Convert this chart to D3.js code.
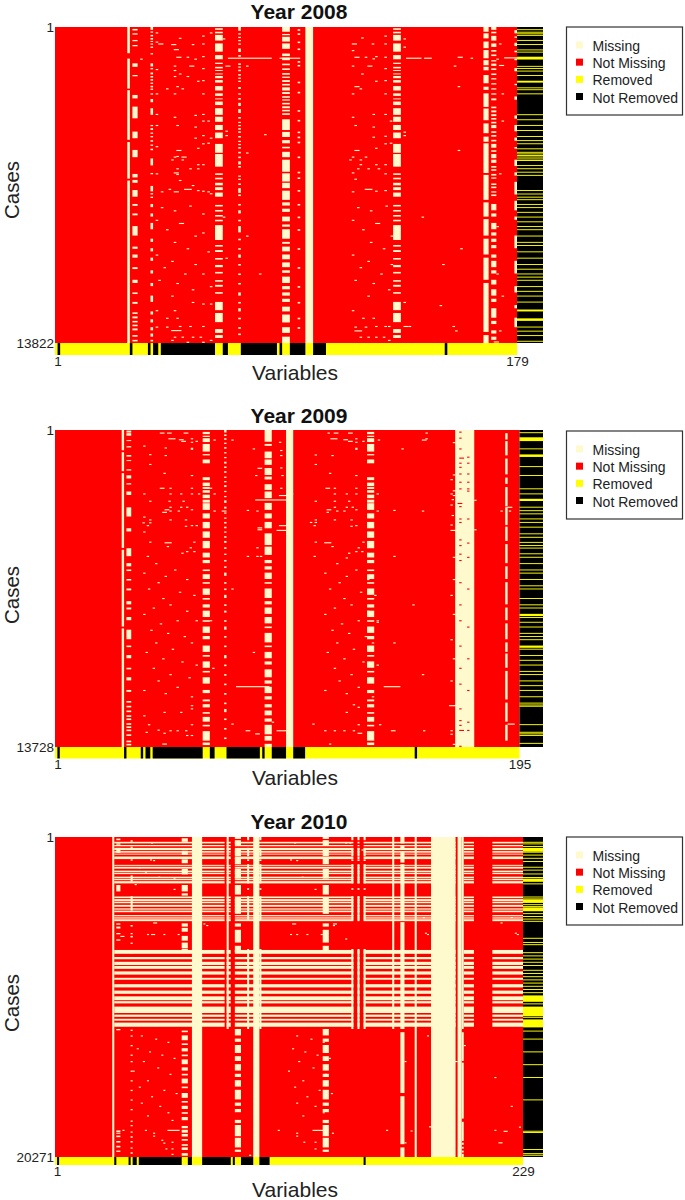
<!DOCTYPE html>
<html>
<head>
<meta charset="utf-8">
<script src="https://cdn.jsdelivr.net/npm/d3@7"></script>
<style>
  body { margin: 0; background: #fff; }
  svg { display: block; font-family: "Liberation Sans", Arial, sans-serif; }
  .soft { filter: blur(0.35px); }
</style>
</head>
<body>
<div id="chart"></div>
<script>
// Legend
var legendLabels = ["Missing", "Not Missing", "Removed", "Not Removed"];
var legendColors = ["#FFFACD", "#FF0000", "#FFFF00", "#000000"];

// Rows are given as % of the cases, from the top. Columns are variable numbers.
// ---------- Year 2008 ----------
var solid = [[0, 100]];
var gaps2008a = [[0,8.3],[10,19.5],[20,35.7],[36.4,48],[48.6,100]];
var rows2008a = [[0.4,0.9],[1.5,2],[2.5,4.3],[5.2,7.8],[8.9,10.2],[11.3,11.7],[12.6,13.1],[13.6,13.9],[14.7,15],[15.5,16.2],[16.8,17.6],[18.7,20.1],[21,21.8],[22.6,22.9],[23.6,24.7],[25.7,27.8],[28.4,30],[31,32.6],[33.4,35.2],[37,39.8],[40.2,44.2],[46.3,46.8],[47.7,48.2],[49.3,50.1],[50.7,51.6],[52.4,53.7],[56.3,56.8],[57.9,58.4],[59.5,60],[61,61.5],[62.7,67.4],[69,69.5],[70.6,71.2],[73.1,73.6],[75.3,76],[77.5,78],[80.1,80.6],[81.6,82.2],[83.9,84.4],[87,89.6],[90.5,93.4],[95.6,96.8],[97.5,98.4]];
var rows2008b = [[0,1.5],[2.2,2.6],[3.1,4.6],[5.2,6.9],[8.4,9.2],[9.7,10.5],[11.6,12.1],[13.1,13.6],[14.6,15.1],[15.7,16.1],[16.8,17.4],[18,18.5],[19.1,20.1],[20.6,21.2],[21.9,22.4],[22.9,23.3],[24,24.5],[25.1,25.7],[26.2,26.7],[27.3,27.8],[29.2,32.6],[33.2,34.8],[35.8,36.8],[37.9,38.4],[39.5,41.2],[42,45.8],[46.3,48.9],[49.3,51],[51.8,54.7],[55.5,56.5],[57.5,58.5],[60,61.5],[62.5,63.2],[64,67],[68,68.6],[69.5,71],[72,73.5],[74.5,76],[77,77.8],[79,81],[82,83],[84,85],[86,87],[88.5,90],[91,93.5],[95,96.8],[98,100]];
var rows2008c = [[0,1.5],[2,3.6],[4.6,6.7],[7.3,9.9],[10.5,12.1],[12.6,13.7],[15.2,17.8],[18.9,19.9],[21,25.3],[25.8,29.5],[30.5,33.6],[34.7,36.3],[36.8,46.2],[46.8,54.7],[55.5,60],[60.8,66],[67,72],[73,80],[81,96.5],[97.5,100]];
var rows2008d = [[0,0.9],[1.5,2],[2.8,4.3],[5.2,6.3],[7.3,7.8],[8.7,9.2],[10.5,10.9],[11.6,12.3],[13.1,13.6],[14.7,15.2],[16.2,16.6],[17.8,18.2],[19.4,19.8],[21,21.4],[22.6,23.2],[25.2,25.7],[26.4,27],[27.6,28.2],[28.8,29.3],[30,30.5],[31,32],[33,33.5],[34.2,34.7],[35.7,36.2],[37,38.2],[39,39.5],[40.2,41.5],[42,43],[44,44.5],[45,45.5],[46.5,47],[47.6,48],[49.5,50],[50.5,51],[52,52.4],[53,53.5],[56,58],[59,60],[62,64],[65,66],[67,68],[69,70],[72,73],[74,76],[77,78],[80,81.5],[83,85],[86,87],[89,92],[93,94],[96,97],[98,99]];
var rows2008e = [[0.6,1.1],[2,2.4],[4.1,4.5],[5.7,6.1],[11.5,12.6],[15.2,15.6],[21.5,22.6],[25.2,28.9],[33.1,35.2],[38.9,41.2],[46.5,47.6],[48.4,49.3],[51.6,53.7],[56,56.6],[59,59.6],[63,66],[69.5,70.2],[72,73],[76,76.6],[80,81],[84,84.5],[87,87.6],[90.3,90.8],[91.6,92.2],[93,93.5],[94.2,94.7],[95.4,96],[97.5,98],[99,99.5]];
var rows2008f = [[0,0.9],[1.4,1.8],[2.5,3],[3.5,4],[4.4,4.7],[5.2,5.6],[6.2,6.6],[8.3,8.7],[11.5,12.5],[13,13.4],[14.4,15],[15.5,16],[16.5,17],[17.6,18],[18.6,19.1],[19.5,19.9],[21,21.4],[22.8,23.8],[25.7,27.8],[31,31.4],[32,32.6],[33.4,33.8],[34.5,34.9],[35.8,36.3],[37.2,37.6],[38.5,39],[41.6,43.8],[46.2,46.6],[50.3,52],[52.6,53],[53.7,54.1],[56,57],[59,60],[62,64],[67,68],[70,71],[73,74],[77,78],[81,82],[85,87],[90,91],[92.5,93.5],[95,96],[97,98],[99,99.5]];
var rows2008g = [[0,1.2],[2,2.4],[3.1,3.5],[4.1,4.5],[5.2,5.6],[6.8,7.9],[8.9,9.4],[11.5,12],[12.5,12.9],[13.5,14],[14.9,15.4],[16,16.4],[17,17.4],[19,19.6],[21,21.4],[22.5,23],[24,25],[26,27.2],[28.5,29],[30,30.4],[31,31.4],[32,32.5],[33,33.5],[34.5,35],[36,36.4],[37,37.4],[38,38.5],[39.5,40],[41,41.5],[42.5,43.5],[44,44.5],[47,47.4],[48,48.4],[49.5,50],[51,52.5],[53,53.5],[56,56.5],[58,59],[61,61.5],[63,65],[67,67.5],[70,70.5],[72,73],[75,75.5],[78,78.5],[81,81.5],[84,85],[87,87.5],[89,90],[92,92.5],[95,95.5],[97,97.5]];
var rows2008h = [[0.7,1.2],[2,2.5],[4.6,5.1],[6.8,7.3],[10.8,11.3],[12,12.5],[17.3,17.8],[20.5,21],[26.3,26.8],[29.4,29.9],[33.1,33.6],[34.7,35.2],[36.3,36.8],[41,41.5],[45.8,46.3],[47.6,48.1],[51.6,52.1],[56,56.5],[60,60.5],[64,64.5],[70,70.5],[76,76.5],[82,82.5],[87,87.5],[92,92.5],[95,95.5]];
var rows2008i = [[1,2],[3,3.4],[5,6],[7.5,8],[10,10.5],[13,14],[18,18.4],[22,23],[28,29],[31,33],[35,36],[38,38.5],[42,44],[46,47],[49,53],[55,58],[60,61],[66,70],[74,78],[82,84],[88,89],[92,95]];
var stripes2008 = [[29,29,gaps2008a],[31,32,rows2008e],[38,38,rows2008f],[63,65,rows2008a],[72,72,rows2008g],[89,91,rows2008b],[95,95,rows2008h],[98,100,solid],[132,134,rows2008a],[167,168,rows2008c],[170,171,rows2008d],[179,179,rows2008i]];
// [variable, % of cases, length in variables]
var specks2008 = [[40,1.7],[40,4.6],[41,5.2,2],[46,5.4,2],[49,3.4],[54,5.4],[58,2.7],[58,5.2],[61,1.7],[47,7,2],[48,9.4,2],[52,9.4],[55,10],[58,9.2],[34,10],[40,13.3],[47,12.2],[47,13.6],[53,12.2,2],[58,13],[47,15.5],[49,14.7],[52,15.5],[56,17],[58,16.8],[44,19.4],[48,18.7],[50,19.4],[47,21],[40,21],[58,21],[40,27.5],[47,28.4],[48,31],[55,27.8],[58,27.5],[58,29.6],[60,29.6],[55,31.5],[40,31],[55,35],[58,34.2],[61,35],[58,36.8],[60,36.6],[56,38.2],[40,37.7],[48,38.9,2],[47,41],[46,41.9],[48,40.8],[50,41],[51,41],[50,41.9],[56,43.4],[58,43.4],[48,44.7],[53,44.7],[56,44.7],[47,46,2],[48,46.5],[40,46.3],[49,48.4],[54,50],[51,51.2,3],[56,51.6],[42,52],[45,51.2],[47,52,2],[58,51.8],[60,52],[61,52.6],
  [68,9.7,17],[88,9.7,8],[137,9.7,6],[144,9.7,3],[67,12.2,2],[75,12.2],[82,33.9],[75,39.7],[67,32.8],[67,34.2],[66,3.6],
  [119.6,3.3],[128.6,2.7],[116,5.2,2],[123.7,5.2],[128.6,5.2],[116,7.3],[117,9.4,2],[121,9.4],[125,9.2],[124,9.9],[128.6,9.4],[116,12.2],[122,12.2,2],[119.6,14.7],[128.6,13],[125,17],[128.6,16.8],[117,18.7,2],[119,19.4],[116,21],[128.6,21],[116,28.4],[124,27.5],[128.6,27.5],[130.7,29.6],[117,31],[124,31.5],[124,34.7],[128.6,34.4],[128.6,36.8],[130.7,36.6],[125,38.2],[117,38.9,2],[116,41],[115,41.9],[119,41.9],[121,41],[119,43.4],[125,43.4],[128.6,43.4],[118,44.7],[122,44.7],[126,44.7],[116,46],[128.6,46.3],[117,48],[121,51.2,3],[116,52],[125,51.8],[128.6,51.6],[136,3.6],[136,6.2],[136,33.1],[136,34.2],
  [157,9.4,2],[162,9.7],[155.5,12.2],[157,18.7],[157,38.9],[173,5.2],[173,12,2],[174,21],[174,29.6],[173,46.3],[175,9.6,5],[172,10],
  [42,57],[47,58],[53,56.5],[58,59],[40,61],[49,62,2],[44,64],[55,66],[58,65],[47,68],[52,70],[40,72],[60,71],[46,74],[43,76],[55,75],[51,78],[58,78],[41,80],[48,81],[61,82],[54,83],[46,85],[66,60],[67,73],[75,66],[80,78],
  [118,57],[123,58],[129,56.5],[116,61],[125,62,2],[120,64],[131,66],[123,68],[128,70],[116,72],[122,74],[119,76],[131,75],[127,78],[117,80],[124,81],[130,83],[122,85],[143,60],[151,75],[158,70],[172,63],[172,78],[174,85],[150,88],
  [54,87],[58,87.5],[61,87.5],[47,89.6],[40,89.6],[44,92],[48,92],[40,94.8],[44,94.8],[49,94.6],[53,94.6],[58,94.6],[46,95.9,4],[47,98],[50,98],[54,98],[57,98],[58,99.6],[61,99],[46,99],[52,99.6],
  [116,89.6],[120,92],[124,92],[117,94.8],[121,94.8],[125,94.6],[128.6,94.6],[130,94.6],[117,96,3],[119,98],[122,98],[125,98],[128,98],[130,99],[136,94.6,2],[136,87],[138,94.6],[155,94.6],[156,96],[173,96],[171,99.5,2]];
var blackRuns2008 = [[2,2],[30,30],[37,37],[39,40],[42,62],[66,67],[73,86],[88,88],[92,97],[101,105],[152,152]];
var removedRows2008 = [0.7,1.5,2,2.5,4.1,5.4,7.1,7.8,12.3,13,13.8,15.2,19.1,19.7,21,27.6,29.2,31,32.6,34.5,35.8,36.8,38.4,39.5,40,40.5,41,41.6,42.1,43.7,44.7,45.8,46.8,51.6,52.7,53.7,54.5,56,57,58.5,60,61.5,63,64,66,68,69,71,73,75,76.5,78,79,80,82,83.5,85,86.9,89.6,94.8,96.1,97.5,99.3];
var removedWide2008 = [[9.4,10.3],[17,17.6],[92.2,93],[89.4,90]];

// ---------- Year 2009 ----------
var gaps2009a = [[0,6.4],[7,13],[13.6,37.2],[37.8,62],[62.6,100]];
var rows2009a = [[0.6,1.3],[1.8,2.2],[2.6,3.8],[4.4,6.8],[7.6,8],[9.3,10.5],[14.9,15.8],[16.6,17.7],[18,18.6],[19,19.8],[20.4,21.5],[22,22.9],[23.1,25.2],[26.3,27.9],[29,31],[32,34],[35,37.3],[38.7,40.2],[41,42],[44,44.5],[45.5,47],[48,48.5],[50,52],[53,53.5],[55,56],[57,59],[60,60.5],[62,64],[65,66],[68,70],[71,71.5],[73,75],[76,76.5],[78,80],[82,83],[85,85.6],[86.5,87.5],[89,89.5],[90.5,92],[93,93.5],[95,98],[98.6,99.4]];
var rows2009b = [[0,3.7],[4.4,5],[6.8,8.9],[9.3,11],[12,12.6],[12.6,14.2],[14.7,15.6],[17.1,18.9],[19.4,21.5],[23,25.2],[26.3,27.9],[29,31],[32.6,36.3],[36.8,39.4],[41,42],[43,44],[45,47],[48,48.5],[50,53],[54,55],[56,58],[59,61],[62,62.5],[64,67],[68,68.5],[70,72],[73,74],[75.5,78],[79,80],[81,83],[84,85],[86.5,87.5],[88.5,90],[91,92],[93,96],[96.5,98],[99,100]];
var rows2009c = [[0.2,0.8],[1,1.8],[3.2,3.5],[5.1,5.5],[7.9,8.4],[9.5,9.8],[12.4,12.8],[14.3,15.3],[16.8,17.2],[19.4,20.5],[24.4,27.3],[31,32],[37.3,39.8],[42,43],[44,44.5],[47,47.5],[50,50.6],[54,55],[56,56.6],[59,60],[63,66],[68,68.5],[71,72],[75,75.5],[78,79],[82,82.6],[85.5,86],[87,87.5],[88.5,89],[90,90.5],[91,91.5],[92.5,93],[93.5,94],[94.5,95],[96,96.5],[98,98.5],[99,99.5]];
var rows2009d = [[0,0.8],[1.4,1.9],[2.6,3.1],[4,4.4],[5.4,5.9],[7,7.4],[8.5,8.9],[10,10.6],[11.5,12],[13,13.5],[14.7,15.1],[16.1,16.5],[17.4,18],[19.2,19.6],[20.8,21.2],[22.2,23],[24.2,24.8],[26,26.4],[27.6,28],[29,29.5],[30.5,31],[32,32.4],[33.5,34],[35,35.6],[37,37.5],[39,39.4],[41,41.5],[43,43.5],[45,46],[48,48.5],[50,50.5],[52,53],[55,55.5],[57,57.6],[60,60.5],[62,63],[65,65.5],[68,68.5],[71,72],[74,74.5],[77,77.5],[80,80.5],[83,83.5],[86,86.5],[88,89],[91,91.5],[94,94.5],[97,97.5]];
var rows2009e = [[1,3],[3.5,8],[9,14],[15,17],[18,24],[24.6,30],[30.5,35],[36,42],[43,47],[48,55],[56,60],[61,66],[67,70],[70.5,75],[76,85],[86,92],[93,98]];
var stripes2009 = [[29,29,gaps2009a],[31,32,rows2009c],[63,65,rows2009a],[72,72,rows2009d],[89,91,rows2009b],[98,100,solid],[132,134,rows2009a],[169,176,solid],[190,190,rows2009e]];
var specks2009 = [[45,0.8,2],[48,0.8,2],[55,0.8,2],[48.6,2.6,3],[53,2.9,2],[54,3.4,2],[58,2.6],[58,3.7],[58,5.6,1],[58,5.9],[60,3.4],[38,4.9],[47,5.5],[40.5,7.6],[47,7.9],[40.5,10.7],[46.5,13.5],[58,14.2],[45,18.2,2],[49,18.2],[58,18.2],[38,20],[49,20],[53.5,20],[58,20],[61,20],[67.5,20],[66,18.2],[67.5,3],[75,3],[84,5.8],[85,14.2],[86,11.9,2],[40.5,22.3],[48.6,22.3],[54.5,22.3],[49,24.2],[53.5,24.2],[56,24.2],[58,25],[47,25,2],[46,25.8,2],[49,25.4],[52.5,25.4],[67.5,25.4],[71,25.4,2],[81.5,25.2],[85.5,25.4],[38,27.3],[40.5,28.2],[37.7,29.1],[40.5,29.1],[49,28.2],[55.5,28.2],[39.5,30],[55.5,30.2],[58,30],[60,30],[38,32],[40.5,35.2],[47,35.4,3],[47.9,36.6],[59,35.2],[57.5,37],[56,38.2],[59,38.2],[54,38.7],[39.5,39.7],[81.5,39.7],[85.5,39.7],[87,39.7],[85.5,37],[86,30.7,2],[86,31.3,2],[95,30,4],[94,31.5,4],[95.5,11.8],[95,20.5,5],[85,21.9,14],[95.5,6.3],[95.5,7.9],[95,3.7],[96,14.2],[95.5,18.2],
  [115.4,0.8],[118,0.8,2],[124,0.8,2],[116.6,2.6,3],[122,2.9,2],[124,3.4,2],[127,2.6],[127,3.7],[127,5.6],[127,5.9],[130,3.4],[136.5,3],[146.4,5.8],[156.5,0.8],[156.5,2.6],[155,3,2],[110,7.7],[117,7.9],[110,10.7],[116,13.5],[127,14.2],[114.5,18.2,2],[118,18.2],[127,18.2],[118,20],[123,20],[127,20],[136,20],[100,20],[110,22.3],[118,22.3],[124,22.3],[118,24.2],[123,24.2],[125.5,24.2],[127,25],[115,25,2],[115,25.8],[119,25.4],[122,25.4],[136,25.4],[143,25.2],[155,25.4],[110,28.2],[108,29],[110,29],[118,28.2],[125,28.2],[109.5,30],[125,30.2],[127,30],[110,35.2],[114,35.4,3],[117,36.6],[130,35.2],[128,37],[127,38.2],[129.5,38.2],[124,38.7],[109.5,39.7],[143,39.7],[123,40.2],
  [168,3.8],[168,14],[167,15.5],[168,19,4],[168,20.5],[167,20],[167.5,21.8],[167,23.5],[167.5,26.8],[167,29.8],[167,31.5,3],[177,22],[177,31.3],[188,25.4],[190,24.2,3],[191.5,25.4],[168,40],[168,47],[167,52],[168,58],[167,66],[168,72],[167,79],[166.4,86.8,5],[167,94.7],[167,95.8],[168,99],
  [43,42],[51,44],[38,45],[47,46],[56,47],[44,48],[40,50],[53,51],[59,52],[46,53],[49,55],[42,56],[56,57],[38,58],[52,60],[45,61],[60,60],[41,63],[48,64],[55,65],[43,67],[58,67],[50,69],[39,70],[46,72],[54,73],[60,74],[42,75],[49,77],[57,78],[44,79],[52,81],[38,82],[47,83],[58,84],
  [119,42],[127,44],[114,45],[123,46],[132,47],[120,48],[116,50],[129,51],[135,52],[122,53],[125,55],[118,56],[132,57],[114,58],[128,60],[121,61],[136,60],[117,63],[124,64],[131,65],[119,67],[134,67],[126,69],[115,70],[122,72],[130,73],[136,74],[118,75],[125,77],[133,78],[120,79],[128,81],[114,82],[123,83],[134,84],[77,80.8,14],[139,80.8,7],[66,60],[75,50],[84,70],[67,75],[136,60.5],[151,55],[155,77],[143,67],
  [38,90],[40,92.8],[46.5,88.9],[53.5,88.9],[58,86.8],[58,87.8],[58,92.8],[39,95.2],[44,94.5],[46.5,95.5],[49,94.7],[52,94.7],[55.6,94.7],[56,96.2],[58,96.2],[46,98.9,2],[75,92.6],[81,94.7,2],[85,95.7,2],[94,94.7,4],[92,92],[109,92.6],[114,94.7],[118,94.7],[122,94.7],[116,98.9],[128,87.3],[126,86.5],[128,92.8],[126,94.7],[128,95.5,2],[137,92.8],[142,94.7,2],[155.5,94.7],[123,88.9],[191,92.6,3]];
// red cells left inside the missing block
var redSpecks2009 = [[170.7,0.5],[170.7,2.4],[170.7,5.8],[170.7,8.7,2],[174,8.4],[174,10.3],[170.7,10.3],[170.7,11.6],[170.7,13.7],[174,13.7],[170.7,16.3],[174,16.3],[170.7,18.4],[174,18.4],[174,19.1],[170,23,2],[170.7,24],[170.7,27.9],[174,27.9],[170.7,29],[170.7,34.5],[170.7,36.3],[174,35.5],[170.7,39],[170.7,41],[174,40],[170.7,48],[174,50],[170.7,55],[170.7,60],[174,62],[170.7,68],[174,72],[170.7,75],[170.7,80],[174,82],[170.7,87.8],[170.7,91.5],[170.7,93],[174,92],[170.7,94.6,2],[174,94.6],[170.7,99.6]];
var blackRuns2009 = [[2,2],[30,30],[37,37],[39,40],[42,62],[66,67],[73,86],[88,88],[92,97],[101,105],[152,152]];
var removedRows2009 = [0.7,5.8,11.4,14.2,18.4,20,24.2,25.3,26.3,27.9,29,30.5,32.6,33.7,35.3,36.3,37.1,38.9,40,42,44,45,47,49,50,53,55,56,59,60.5,62,64,65,66,69,71,72.5,74,76,77,79,80.5,82,84,86,86.6,87,92.8,95.2,95.7,96.2,98.7];
var removedWide2009 = [[2.3,3.5],[7.7,8.5],[21.7,22.4],[58,58.7],[68,68.7]];

// ---------- Year 2010 ----------
var bandRows2010 = [[1.5,2],[2.5,2.9],[3.4,4.1],[4.4,4.9],[5.2,5.5],[6.1,6.9],[8.7,9],[9.3,9.9],[10.5,11],[11.2,11.6],[12.4,12.9],[13.1,13.5],[13.8,14.5],[18.6,19.1],[19.4,20],[20.2,20.7],[21.2,21.8],[22.3,22.7],[23,23.5],[24.4,24.8],[25.1,25.5],[25.7,26.3],[35.3,36.5],[37.5,38.2],[39,40],[40.3,41.2],[42,43],[44,44.6],[46,47],[48,49],[49.8,51],[51.3,52],[53,55],[55.5,56.2],[56.8,57.4],[58,59.3]];
var bandColumns2010 = [[30,83],[85,86],[89,146],[149,149],[152,196],[201,205],[215,229]];
var rows2010a = [[0.4,1.5],[4.3,5.6],[7,8.2],[10,11.7],[15,17],[17.6,18.3],[27,28],[28.4,29.6],[30.9,32.4],[33,34.8],[35,36],[60.5,61],[62,63.5],[64.5,65],[66,67],[68,68.5],[69.5,71],[72,73],[74,74.5],[75.5,77],[78,78.5],[80,81.5],[82.5,83],[84,85],[86,86.5],[87.5,88.5],[90.3,91],[91.5,92.4],[92.8,93.6],[94.4,94.9],[96,96.5],[97,97.8],[98.8,99.6]];
var rows2010b = [[0,0.6],[1,2.5],[4,6],[6.5,8.5],[10,13],[15,18],[19,24],[27,28],[29,33],[34,36],[60,62],[63,64],[65,67.5],[68.5,70],[71,73],[74,75],[76,78],[79,82],[83,84],[85,86],[88.4,89.4],[90,93.5],[94,97],[97.7,98.4]];
var rows2010c = [[1,1.5],[3,3.4],[7,7.4],[12,14],[18.5,23],[27.5,28],[30,30.4],[31,31.4],[33,33.4],[36,36.4],[60.2,60.6],[62,62.4],[65,65.4],[68,68.4],[70,70.4],[73,73.4],[76,76.4],[79,79.4],[82,82.4],[85,85.4],[88.6,89],[90,90.4],[92,92.4],[93.5,94],[95,95.5],[97,97.4],[98.5,99]];
var rows2010d = [[0.5,1],[2,2.4],[3.4,5],[15,17],[27,27.4],[28,28.6],[30,30.4],[32,32.4],[60,60.4],[91.7,92.2],[93.3,93.8],[95,95.5],[96.5,97],[98,98.4]];
var rows2010e = [[0,60]];
var rows2010f = [[0,1],[3.4,6],[7,7.5],[8.5,14.5],[16,16.5],[18.5,26],[35,60]];
var rows2010g = [[0,2],[2.6,4],[4.6,8],[8.5,26],[26.6,60],[61,80],[81,96],[97,100]];
var rows2010h = [[61,70],[70.5,88],[89,95],[95.5,96.2],[96.8,97.4],[98,98.6],[99,100]];
var stripes2010 = [[29,29,solid],[31,32,rows2010d],[38,38,rows2010c],[63,65,rows2010a],[68,72,solid],[85,85,rows2010e],[89,91,rows2010b],[95,95,rows2010f],[98,100,solid],[101,101,rows2010f],[132,134,rows2010b],[146,146,rows2010f],[149,149,rows2010f],[152,152,rows2010f],[166,166,rows2010e],[170,171,rows2010g],[177,177,solid],[185,196,solid],[198,199,solid],[200,200,rows2010e],[200,200,rows2010h]];
var specks2010 = [[48,1.7],[47.5,7],[49,7.2],[42,9.5],[45,10.8],[51.5,12.4],[59,12.9],[40,14.7],[59,16.2],[49,26.7,2],[46,30.3],[48,30.3],[49,30.3],[54,30.3],[61,30.3],[33,30.9,2],[38,30.9],[73.6,27],[75,27.5],[118,1.7],[143,1.7],[145,1.7],[116,7],[119,7.2],[121.7,12.4],[128,16.2],[117,27,2],[137,27,2],[137,27.5],[116,30.3],[119,30.3],[124,30.3],[131,30.3],[143,31.7],[182,29.9],[183,30.3],[226,29.9],[227,30.3],[219,26.7],[181,25],[224,25],[151,3.9,2],[216,3.5],[31,92.4,2],[34,91.5],[45,91.5],[49,92.4],[49,93.3],[56,91.5,6],[53,94.6],[54,95.5],[58,95.2],[55,97.3],[58,97.3],[58,99],[58,88.4],[110,91.5],[119,92.4],[119,93.3],[127,91.5,6],[122.5,95.2],[128,95.2],[128,97.3],[96,99.3],[136.5,92.4],[163,91.5],[184,90.4,2],[216,91.5],[220.5,91.8,2],[218,95.4,2],[228,90.5],[175,91.7],[172,95.4],
  [43,62],[50,63],[56,64],[41,66],[47,67],[53,68],[59,69],[44,70],[51,72],[39,73],[57,74],[46,76],[42,78],[54,79],[60,80],[48,81],[43,83],[52,84],[56,86],[46,87],[119,62],[126,63],[132,64],[117,66],[123,67],[129,68],[135,69],[120,70],[127,72],[115,73],[133,74],[122,76],[118,78],[130,79],[136,80],[124,81],[119,83],[128,84],[132,86],[122,87],[172,70],[183,62],[216,75],[224,84],[196,70,2],[201,65]];
var blackRuns2010 = [[2,2],[30,30],[37,37],[39,40],[42,62],[66,67],[73,86],[88,88],[92,97],[101,105],[152,152]];
var removedRows2010 = [1.5,2,2.8,4.6,5.5,6.5,7.5,9.3,10.2,11.4,12.5,14.5,18.6,19.2,21,21.6,23.8,24.7,25.5,26.2,31.5,32.8,33.5,36,37,38,39,40,41.5,42.5,43.5,44.5,45.5,46.5,47.5,48.5,52,56.2,60.5,63,67,71,75,82,91.8,92.2,97.5,98.8,99.3];
var removedWide2010 = [[3.4,4.6],[13,14],[19.5,20.6],[22,23.2],[49.5,51.5],[53,56],[57,59.5]];

// One entry per panel, built from the arrays above
var panels = [
  { year: 2008, nVars: 179, nCases: 13822, stripes: stripes2008, specks: specks2008, redSpecks: [], bandRows: [], bandColumns: [],
    blackRuns: blackRuns2008, removedRows: removedRows2008, removedWide: removedWide2008,
    left: 55, plotRight: 517, right: 543, top: 27, bottom: 343, barBottom: 355, titleY: 19, labelY: 380, casesY: 190, tickY: 362, legendTop: 27 },
  { year: 2009, nVars: 195, nCases: 13728, stripes: stripes2009, specks: specks2009, redSpecks: redSpecks2009, bandRows: [], bandColumns: [],
    blackRuns: blackRuns2009, removedRows: removedRows2009, removedWide: removedWide2009,
    left: 55, plotRight: 519.5, right: 543, top: 430, bottom: 747, barBottom: 758.5, titleY: 423, labelY: 785, casesY: 595, tickY: 765, legendTop: 431 },
  { year: 2010, nVars: 229, nCases: 20271, stripes: stripes2010, specks: specks2010, redSpecks: [], bandRows: bandRows2010, bandColumns: bandColumns2010,
    blackRuns: blackRuns2010, removedRows: removedRows2010, removedWide: removedWide2010,
    left: 55, plotRight: 523, right: 543, top: 837, bottom: 1157, barBottom: 1165, titleY: 829, labelY: 1197, casesY: 1003, tickY: 1172, legendTop: 837 }
];

var svg = d3.select("#chart").append("svg")
  .attr("width", 685)
  .attr("height", 1200);

// Draws one rect for each [first variable, last variable, rowFrom, rowTo]
function drawCells(group, cells, x, y, color) {
  group.append("g")
    .selectAll("rect")
    .data(cells)
    .join("rect")
    .attr("x", d => x(d[0] - 1))
    .attr("width", d => x(d[1]) - x(d[0] - 1))
    .attr("y", d => y(d[2]))
    .attr("height", d => y(d[3]) - y(d[2]))
    .attr("fill", color);
}

panels.forEach(function(p) {
  var x = d3.scaleLinear().domain([0, p.nVars]).range([p.left, p.plotRight]);
  var y = d3.scaleLinear().domain([0, 100]).range([p.top, p.bottom]);
  var g = svg.append("g").attr("class", "soft");

  // Not missing background
  g.append("rect")
    .attr("x", x(0))
    .attr("y", y(0))
    .attr("width", x(p.nVars) - x(0))
    .attr("height", y(100) - y(0))
    .attr("fill", legendColors[1]);

  // Rows missing over many variables
  var bandCells = [];
  p.bandColumns.forEach(function(c) {
    p.bandRows.forEach(function(r) { bandCells.push([c[0], c[1], r[0], r[1]]); });
  });
  drawCells(g, bandCells, x, y, legendColors[0]);

  // Missing cells in the striped and solid columns
  var columnCells = [];
  p.stripes.forEach(function(s) {
    s[2].forEach(function(r) { columnCells.push([s[0], s[1], r[0], r[1]]); });
  });
  drawCells(g, columnCells, x, y, legendColors[0]);

  var toCell = d => [d[0], d[0] + (d[2] || 1) - 1, d[1], d[1] + 0.35];
  drawCells(g, p.specks.map(toCell), x, y, legendColors[0]);
  drawCells(g, p.redSpecks.map(toCell), x, y, legendColors[1]);

  // Bottom bar: removed variables are yellow
  var barY = d3.scaleLinear().domain([0, 1]).range([p.bottom, p.barBottom]);
  drawCells(g, [[1, p.nVars, 0, 1]], x, barY, legendColors[2]);
  drawCells(g, p.blackRuns.map(d => [d[0], d[1], 0, 1]), x, barY, legendColors[3]);

  // Side bar: removed cases are yellow
  var sideX = d3.scaleLinear().domain([0, 1]).range([p.plotRight, p.right]);
  var sideG = g.append("g");
  sideG.append("rect")
    .attr("x", sideX(0))
    .attr("y", y(0))
    .attr("width", sideX(1) - sideX(0))
    .attr("height", y(100) - y(0))
    .attr("fill", legendColors[3]);
  var sideRows = p.removedRows.map(d => [d, d + 0.3]).concat(p.removedWide);
  sideG.selectAll("rect.row")
    .data(sideRows)
    .join("rect")
    .attr("class", "row")
    .attr("x", sideX(0))
    .attr("width", sideX(1) - sideX(0))
    .attr("y", d => y(d[0]))
    .attr("height", d => y(d[1]) - y(d[0]))
    .attr("fill", legendColors[2]);

  // Axes only carry the first and last labels
  var xAxis = d3.axisBottom(x)
    .tickValues([1, p.nVars])
    .tickSize(0)
    .tickFormat(d3.format("d"));
  var yAxis = d3.axisLeft(y)
    .tickValues([0, 100])
    .tickSize(0)
    .tickFormat(d => d === 0 ? "1" : p.nCases);

  var xAxisG = svg.append("g")
    .attr("transform", `translate(0, ${p.tickY - 9})`)
    .call(xAxis);
  var yAxisG = svg.append("g")
    .attr("transform", `translate(${p.left + 2}, 0)`)
    .call(yAxis);
  [xAxisG, yAxisG].forEach(function(a) {
    a.select(".domain").remove();
    a.selectAll("text")
      .attr("font-family", "Liberation Sans, Arial, sans-serif")
      .attr("font-size", 13.5)
      .attr("fill", "#222");
  });

  // Title and axis labels
  svg.append("text")
    .attr("x", 299)
    .attr("y", p.titleY)
    .attr("text-anchor", "middle")
    .attr("font-weight", "bold")
    .attr("font-size", 21)
    .attr("fill", "#111")
    .text("Year " + p.year);
  svg.append("text")
    .attr("x", 295)
    .attr("y", p.labelY)
    .attr("text-anchor", "middle")
    .attr("font-size", 21)
    .attr("fill", "#222")
    .text("Variables");
  svg.append("text")
    .attr("transform", `translate(19, ${p.casesY}) rotate(-90)`)
    .attr("text-anchor", "middle")
    .attr("font-size", 20.5)
    .attr("fill", "#222")
    .text("Cases");

  // Legend
  var legend = svg.append("g").attr("transform", `translate(566.5, ${p.legendTop})`);
  legend.append("rect")
    .attr("width", 116)
    .attr("height", 88)
    .attr("fill", "#fff")
    .attr("stroke", "#333")
    .attr("stroke-width", 1.2);
  var legendY = d3.scalePoint().domain(legendLabels).range([18, 69.5]);
  legend.selectAll("rect.swatch")
    .data(legendLabels)
    .join("rect")
    .attr("class", "swatch")
    .attr("x", 9.5)
    .attr("y", d => legendY(d) - 3.5)
    .attr("width", 7)
    .attr("height", 7)
    .attr("fill", (d, i) => legendColors[i]);
  legend.selectAll("text")
    .data(legendLabels)
    .join("text")
    .attr("x", 26)
    .attr("y", d => legendY(d) + 6)
    .attr("font-size", 14)
    .attr("fill", "#222")
    .text(d => d);
});
</script>
</body>
</html>
